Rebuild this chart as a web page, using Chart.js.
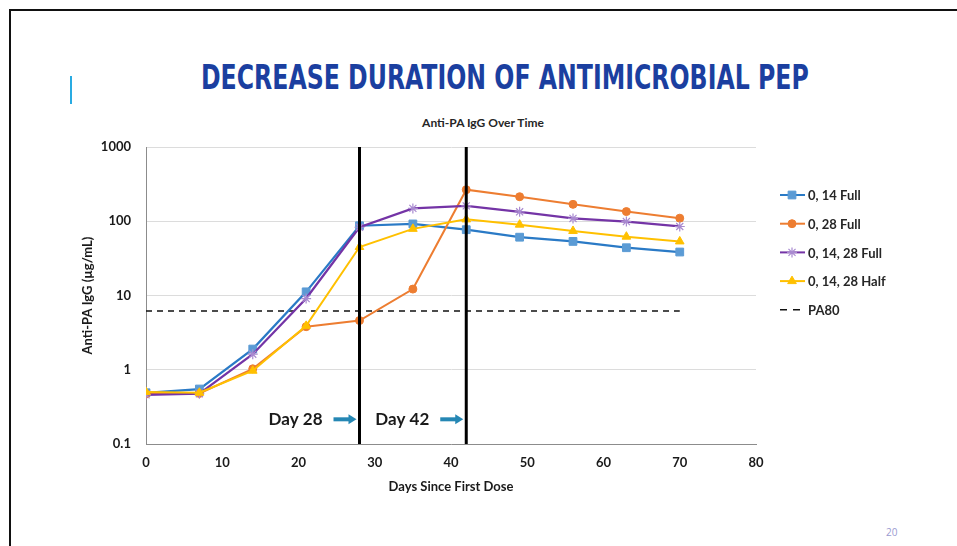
<!DOCTYPE html>
<html>
<head>
<meta charset="utf-8">
<script src="https://cdn.jsdelivr.net/npm/chart.js@4.4.1/dist/chart.umd.min.js"></script>
<style>
  html, body { margin: 0; padding: 0; background: #fff; }
  #slide { position: relative; width: 957px; height: 546px; overflow: hidden; background: #fff; }
  .frameTop { position: absolute; left: 9px; top: 9px; right: 0; height: 2px; background: #111; }
  .frameLeft { position: absolute; left: 9px; top: 9px; bottom: 0; width: 2px; background: #111; }
  .accent { position: absolute; left: 70px; top: 76px; width: 2px; height: 28px; background: #29abe2; }
  #slideTitle { position: absolute; left: 0; top: 59px; width: 1010px; text-align: center; }
  #slideTitle span { display: inline-block; font-family: 'DejaVu Sans Condensed', 'Liberation Sans Narrow', sans-serif;
    font-weight: bold; font-size: 33px; color: #1b3fa0; line-height: 38px; transform-origin: center; }
  #chartTitle { position: absolute; left: 0; width: 966px; top: 115px; text-align: center;
    font-family: Lato, 'Open Sans', sans-serif; font-weight: bold; font-size: 12px; color: #262626; }
  #pageNum { position: absolute; left: 886px; top: 525px; font-family: 'Open Sans', sans-serif; font-size: 10px; color: #9a9ad0; }
  canvas { position: absolute; left: 0; top: 0; }
</style>
</head>
<body>
<div id="slide">
  <div class="frameTop"></div>
  <div class="frameLeft"></div>
  <div class="accent"></div>
  <div id="slideTitle"><span id="titleSpan">DECREASE DURATION OF ANTIMICROBIAL PEP</span></div>
  <div id="chartTitle">Anti-PA IgG Over Time</div>
  <div id="pageNum">20</div>
  <canvas id="igChart" width="957" height="546"></canvas>
</div>
<script>
// days sampled
const days = [0, 7, 14, 21, 28, 35, 42, 49, 56, 63, 70];

// Anti-PA IgG (ug/mL) per regimen
const full_0_14 = [0.49, 0.55, 1.9, 11.2, 87, 92, 77, 61, 53.5, 44, 38.5];
const full_0_28 = [0.47, 0.48, 1.03, 3.8, 4.6, 12.2, 266, 214, 169, 135, 110];
const full_0_14_28 = [0.46, 0.475, 1.62, 9.1, 83, 149, 161, 134, 109, 99, 85];
const half_0_14_28 = [0.5, 0.49, 0.97, 3.9, 45, 79, 106, 90, 74, 62, 53.5];

// PA80 threshold
const pa80Days = [0, 70];
const pa80Value = 6.2;

// vertical markers
const markerDays = [28, 42];
const markerLabels = ['Day 28', 'Day 42'];
const markerLabelY = 0.215;

const xTicks = [0, 10, 20, 30, 40, 50, 60, 70, 80];
const yTicks = [0.1, 1, 10, 100, 1000];

// fit the slide title to its width
const ts = document.getElementById('titleSpan');
ts.style.transform = 'scaleX(' + (608 / ts.offsetWidth) + ')';

function pts(xs, ys) {
    return xs.map((d, i) => ({ x: d, y: ys[i] }));
}

const FONT = "Lato, 'Open Sans', sans-serif";

// legend drawn on the right like Excel (line + marker)
const sideLegend = {
    id: 'sideLegend',
    afterDraw(chart) {
        const ctx = chart.ctx;
        const x0 = 780, x1 = 805, mx = 792, tx = 808;
        let y = 195;
        chart.data.datasets.forEach(ds => {
            if (!ds.inLegend) return;
            ctx.save();
            ctx.strokeStyle = ds.borderColor;
            ctx.lineWidth = ds.borderDash ? 1.5 : 2;
            if (ds.borderDash) {
                ctx.beginPath();
                ctx.moveTo(x0, y); ctx.lineTo(x0 + 7, y);
                ctx.moveTo(x0 + 13, y); ctx.lineTo(x0 + 20, y);
                ctx.stroke();
            } else {
                ctx.beginPath();
                ctx.moveTo(x0, y); ctx.lineTo(x1, y);
                ctx.stroke();
                ctx.fillStyle = ds.pointBackgroundColor;
                ctx.strokeStyle = ds.pointBorderColor;
                ctx.lineWidth = ds.pointBorderWidth || 1;
                Chart.helpers.drawPoint(ctx, {
                    pointStyle: ds.pointStyle,
                    radius: ds.pointRadius,
                    rotation: 0,
                    borderWidth: ds.pointBorderWidth || 1
                }, mx, y);
            }
            ctx.fillStyle = '#262626';
            ctx.font = 'bold 13px ' + FONT;
            ctx.textBaseline = 'middle';
            ctx.textAlign = 'left';
            ctx.fillText(ds.label, tx, y + 1);
            ctx.restore();
            y += 28.7;
        });
    }
};

// "Day 28 ->" labels next to the vertical lines
const dayLabels = {
    id: 'dayLabels',
    afterDraw(chart) {
        const ctx = chart.ctx;
        const xs = chart.scales.x, ys = chart.scales.y;
        const py = ys.getPixelForValue(markerLabelY);
        markerDays.forEach((d, i) => {
            const px = xs.getPixelForValue(d);
            ctx.save();
            ctx.fillStyle = '#1a1a1a';
            ctx.font = 'bold 17px ' + FONT;
            ctx.textAlign = 'right';
            ctx.textBaseline = 'middle';
            ctx.fillText(markerLabels[i], px - 37, py);
            // arrow
            ctx.fillStyle = '#2587b4';
            ctx.fillRect(px - 26, py - 2, 16, 4);
            ctx.beginPath();
            ctx.moveTo(px - 11, py - 5);
            ctx.lineTo(px - 3, py);
            ctx.lineTo(px - 11, py + 5);
            ctx.closePath();
            ctx.fill();
            ctx.restore();
        });
    }
};

const datasets = [
    {
        label: '0, 14 Full', inLegend: true, order: 4,
        data: pts(days, full_0_14),
        borderColor: '#2a7ac6', borderWidth: 2.25,
        pointStyle: 'rect', pointRadius: 5.5,
        pointBackgroundColor: '#5b9bd5', pointBorderColor: '#5b9bd5', pointBorderWidth: 1
    },
    {
        label: '0, 28 Full', inLegend: true, order: 3,
        data: pts(days, full_0_28),
        borderColor: '#ed7d31', borderWidth: 2,
        pointStyle: 'circle', pointRadius: 4,
        pointBackgroundColor: '#ed7d31', pointBorderColor: '#ed7d31', pointBorderWidth: 1
    },
    {
        label: '0, 14, 28 Full', inLegend: true, order: 2,
        data: pts(days, full_0_14_28),
        borderColor: '#7434a6', borderWidth: 2.25,
        pointStyle: 'star', pointRadius: 5,
        pointBackgroundColor: '#a98ad0', pointBorderColor: '#a98ad0', pointBorderWidth: 1.2
    },
    {
        label: '0, 14, 28 Half', inLegend: true, order: 1,
        data: pts(days, half_0_14_28),
        borderColor: '#ffc000', borderWidth: 2,
        pointStyle: 'triangle', pointRadius: 5,
        pointBackgroundColor: '#ffc000', pointBorderColor: '#ffc000', pointBorderWidth: 1
    },
    {
        label: 'PA80', inLegend: true, order: 5,
        data: pa80Days.map(d => ({ x: d, y: pa80Value })),
        borderColor: '#111', borderWidth: 1.5, borderDash: [6, 5],
        pointRadius: 0
    }
];
markerDays.forEach(d => {
    datasets.push({
        label: 'day' + d, inLegend: false, order: 0,
        data: [{ x: d, y: yTicks[0] }, { x: d, y: yTicks[yTicks.length - 1] }],
        borderColor: '#000', borderWidth: 3, pointRadius: 0
    });
});

new Chart(document.getElementById('igChart'), {
    type: 'line',
    data: { datasets: datasets },
    options: {
        responsive: false,
        animation: false,
        layout: { padding: { left: 76, top: 147, right: 201, bottom: 47 } },
        plugins: { legend: { display: false }, tooltip: { enabled: false }, title: { display: false } },
        elements: { line: { tension: 0 } },
        scales: {
            x: {
                type: 'linear', min: 0, max: 80,
                afterBuildTicks: s => { s.ticks = xTicks.map(v => ({ value: v })); },
                afterFit: s => { s.height = 55; },
                grid: { display: true, color: 'rgba(0,0,0,0)', drawTicks: false },
                border: { display: true, color: '#8c8c8c', width: 1 },
                ticks: { padding: 11, color: '#1a1a1a', font: { family: FONT, size: 13, weight: 'bold' }, maxRotation: 0 },
                title: { display: true, text: 'Days Since First Dose', color: '#1a1a1a', font: { family: FONT, size: 13, weight: 'bold' } }
            },
            y: {
                type: 'logarithmic', min: 0.1, max: 1000,
                afterBuildTicks: s => { s.ticks = yTicks.map(v => ({ value: v })); },
                afterFit: s => { s.width = 70; },
                grid: { color: '#dcdcdc', drawTicks: false },
                border: { display: true, color: '#8c8c8c', width: 1 },
                ticks: { padding: 15, color: '#1a1a1a', font: { family: FONT, size: 13, weight: 'bold' },
                    callback: v => String(v) },
                title: { display: true, text: 'Anti-PA IgG (µg/mL)', color: '#1a1a1a', font: { family: FONT, size: 13, weight: 'bold' } }
            }
        }
    },
    plugins: [sideLegend, dayLabels]
});
</script>
</body>
</html>
